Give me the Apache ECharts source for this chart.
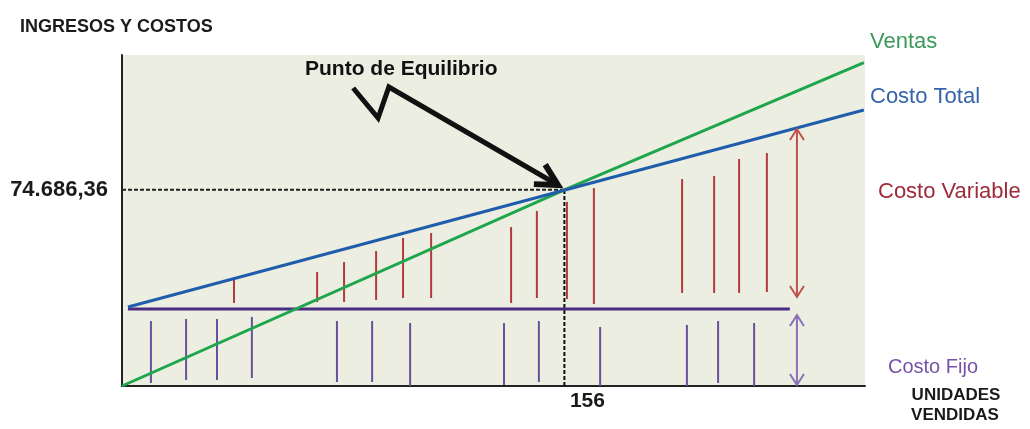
<!DOCTYPE html>
<html>
<head>
<meta charset="utf-8">
<script src="https://cdn.jsdelivr.net/npm/echarts@6/dist/echarts.min.js"></script>
<style>html,body{margin:0;padding:0;background:#fff}#c{width:1030px;height:429px}</style>
</head>
<body>
<div id="c"></div>
<script>
// ---- data (units sold on x, money on y) ----
const xMax = 262;
const yMax = 126000;
const equilibrioX = 156;
const equilibrioY = 74686.36;
const ventas = [[0, 0], [156, 74686.36], [261.6, 123070]];
const costoTotal = [[2.1, 30070], [261.6, 105060]];
const costoFijo = [[2.1, 29310], [235.5, 29310]];

const varX = [39.5, 68.8, 78.3, 89.6, 99.1, 109.0, 137.2, 146.3, 156.9, 166.4, 197.5, 208.8, 217.6, 227.4];
const varTop = [41490, 43400, 47200, 51390, 56340, 58240, 60520, 66620, 70070, 75370, 78800, 79940, 86410, 88690];
const varBottom = [31600, 31980, 31980, 32740, 33500, 33500, 31600, 33500, 33120, 31220, 35400, 35400, 35400, 35780];

const fijoX = [10.2, 22.6, 33.5, 45.8, 75.8, 88.2, 101.6, 134.7, 147.0, 168.6, 199.2, 210.2, 222.9];
const fijoTop = [24740, 25500, 25500, 26270, 24740, 24740, 23980, 23980, 24740, 22460, 23220, 24740, 23980];
const fijoBottom = [1140, 2280, 2280, 3050, 1520, 1520, 0, 380, 1520, 0, 0, 1140, 0];

const rangoVariable = [238.0, 33880, 97830];
const rangoFijo = [238.0, 380, 27030];
const flecha = [[81.5, 113440], [90.3, 102020], [94.1, 113820], [153.7, 76510]];

const yTickLabels = ['74.686,36'];
const xTickLabels = ['156'];

// ---- helpers ----
const FONT = '"Liberation Sans", Arial, sans-serif';
function segRender(color, width) {
  return function (params, api) {
    const p1 = api.coord([api.value(0), api.value(1)]);
    const p2 = api.coord([api.value(0), api.value(2)]);
    return { type: 'line', shape: { x1: p1[0], y1: p1[1], x2: p2[0], y2: p2[1] },
      style: { stroke: color, lineWidth: width } };
  };
}
function dblArrowRender(color) {
  return function (params, api) {
    const a = api.coord([api.value(0), api.value(1)]);
    const b = api.coord([api.value(0), api.value(2)]);
    const s = { stroke: color, lineWidth: 2, fill: null };
    return { type: 'group', children: [
      { type: 'line', shape: { x1: a[0], y1: a[1], x2: b[0], y2: b[1] }, style: s },
      { type: 'polyline', shape: { points: [[a[0] - 7, a[1] - 11], [a[0], a[1]], [a[0] + 7, a[1] - 11]] }, style: s },
      { type: 'polyline', shape: { points: [[b[0] - 7, b[1] + 11], [b[0], b[1]], [b[0] + 7, b[1] + 11]] }, style: s }
    ] };
  };
}
function pointerRender(params, api) {
  const pts = flecha.map(p => api.coord(p));
  const tip = pts[pts.length - 1], prev = pts[pts.length - 2];
  const ang = Math.atan2(tip[1] - prev[1], tip[0] - prev[0]) + Math.PI;
  const L = 24, d = 28 * Math.PI / 180;
  const w1 = [tip[0] + L * Math.cos(ang - d), tip[1] + L * Math.sin(ang - d)];
  const w2 = [tip[0] + L * Math.cos(ang + d), tip[1] + L * Math.sin(ang + d)];
  return { type: 'group', children: [
    { type: 'polyline', shape: { points: pts }, style: { stroke: '#111', lineWidth: 5, fill: null, lineJoin: 'miter' } },
    { type: 'polyline', shape: { points: [w1, tip, w2] }, style: { stroke: '#111', lineWidth: 6, fill: null, lineJoin: 'miter' } }
  ] };
}
function txt(text, x, y, font, fill, align) {
  return { type: 'text', x: x, y: y, style: { text: text, font: font, fill: fill, align: align || 'left', verticalAlign: 'middle' } };
}

const chart = echarts.init(document.getElementById('c'), null, { renderer: 'canvas' });
chart.setOption({
  animation: false,
  backgroundColor: '#ffffff',
  grid: { left: 122, right: 165, top: 55, bottom: 43, show: true, backgroundColor: '#ebeee0', borderWidth: 0 },
  xAxis: {
    type: 'value', min: 0, max: xMax,
    axisLine: { show: true, lineStyle: { color: '#222', width: 2 } },
    axisTick: { show: false }, splitLine: { show: false },
    axisLabel: { customValues: [equilibrioX], formatter: () => xTickLabels[0],
      fontFamily: FONT, fontWeight: 'bold', fontSize: 21, color: '#1a1a1a', margin: 5, padding: [0, 0, 0, 46] }
  },
  yAxis: {
    type: 'value', min: 0, max: yMax,
    axisLine: { show: true, lineStyle: { color: '#222', width: 2 } },
    axisTick: { show: false }, splitLine: { show: false },
    axisLabel: { customValues: [equilibrioY], formatter: () => yTickLabels[0],
      fontFamily: FONT, fontWeight: 'bold', fontSize: 22, color: '#1a1a1a', margin: 14, padding: [0, 0, 20, 0] }
  },
  series: [
    { type: 'custom', name: 'fijoBars', renderItem: segRender('#6a4f9c', 2), encode: { x: 0, y: [1, 2] },
      data: fijoX.map((x, i) => [x, fijoBottom[i], fijoTop[i]]), z: 2 },
    { type: 'custom', name: 'varBars', renderItem: segRender('#b23c3c', 2), encode: { x: 0, y: [1, 2] },
      data: varX.map((x, i) => [x, varBottom[i], varTop[i]]), z: 2 },
    { type: 'line', name: 'dashH', data: [[0, equilibrioY], [equilibrioX, equilibrioY]], symbol: 'none',
      lineStyle: { color: '#222', width: 2, type: [4, 2] }, z: 3 },
    { type: 'line', name: 'dashV', data: [[equilibrioX, 0], [equilibrioX, equilibrioY]], symbol: 'none',
      lineStyle: { color: '#111', width: 2, type: [4, 2] }, z: 3 },
    { type: 'line', name: 'Costo Fijo', data: costoFijo, symbol: 'none', lineStyle: { color: '#4a2c82', width: 3 }, z: 4 },
    { type: 'line', name: 'Ventas', data: ventas, symbol: 'none', lineStyle: { color: '#1ea64c', width: 3 }, z: 5 },
    { type: 'line', name: 'Costo Total', data: costoTotal, symbol: 'none', lineStyle: { color: '#1f5cac', width: 3 }, z: 6 },
    { type: 'custom', name: 'rangoVar', renderItem: dblArrowRender('#c0504d'), encode: { x: 0, y: [1, 2] },
      data: [rangoVariable], z: 7 },
    { type: 'custom', name: 'rangoFijo', renderItem: dblArrowRender('#8a70b8'), encode: { x: 0, y: [1, 2] },
      data: [rangoFijo], z: 7 },
    { type: 'custom', name: 'flecha', renderItem: pointerRender, encode: { x: 0, y: 1 },
      data: [flecha[0]], clip: false, z: 8 }
  ],
  graphic: [
    txt('INGRESOS Y COSTOS', 20, 27, 'bold 18px ' + FONT, '#1a1a1a'),
    txt('Punto de Equilibrio', 305, 69, 'bold 21px ' + FONT, '#111111'),
    txt('Ventas', 870, 42, '22px ' + FONT, '#3a9a5a'),
    txt('Costo Total', 870, 97, '22px ' + FONT, '#3564aa'),
    txt('Costo Variable', 878, 192, '22px ' + FONT, '#9e2a3a'),
    txt('Costo Fijo', 888, 367, '20px ' + FONT, '#7652a6'),
    txt('UNIDADES', 956, 395, 'bold 17px ' + FONT, '#1a1a1a', 'center'),
    txt('VENDIDAS', 955, 415, 'bold 17px ' + FONT, '#1a1a1a', 'center')
  ]
});
</script>
</body>
</html>
